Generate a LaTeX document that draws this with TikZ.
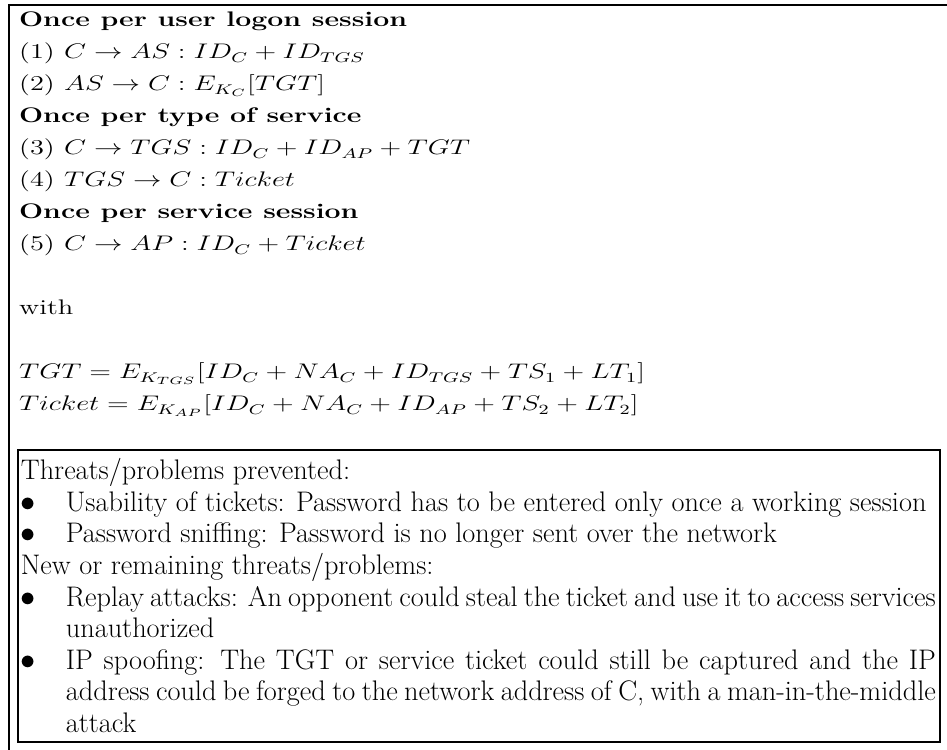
\documentclass[tikz,border=0pt]{standalone}
\usetikzlibrary{positioning}
\begin{document}
\begin{tikzpicture}
[line width=1pt,
upper/.style={anchor=base west, inner sep=0pt, font=\fontsize{12}{14.5}\selectfont, xscale=1.35, transform shape},
lower/.style={anchor=base west, inner sep=0pt, font=\fontsize{16.1}{17.93}\selectfont},
item/.style={lower, text width=17.4cm, align=justify, execute at begin node={\hyphenpenalty=10000\relax}}]

\useasboundingbox (0,0) rectangle (18.94,14.98);

% outer frame (runs off the page right and bottom)
\draw[line width=1.5pt] (0.18,-0.5) -- (0.18,14.88) -- (19.5,14.88);

\node[upper] (sess1) at (0.36,14.44) {\textbf{Once per user logon session}};
\node[upper] (msg1) at (0.36,13.80) {(1) $C \rightarrow AS : ID_C + ID_{TGS}$};
\node[upper] (msg2) at (0.36,13.16) {(2) $AS \rightarrow C : E_{K_C}[TGT]$};
\node[upper] (sess2) at (0.36,12.52) {\textbf{Once per type of service}};
\node[upper] (msg3) at (0.36,11.88) {(3) $C \rightarrow TGS : ID_C + ID_{AP} + TGT$};
\node[upper] (msg4) at (0.36,11.24) {(4) $TGS \rightarrow C : Ticket$};
\node[upper] (sess3) at (0.36,10.60) {\textbf{Once per service session}};
\node[upper] (msg5) at (0.36,9.96) {(5) $C \rightarrow AP : ID_C + Ticket$};

\node[upper] (with) at (0.36,8.68) {with};
\node[upper] (tgt) at (0.36,7.40) {$TGT = E_{K_{TGS}}[ID_C + NA_C + ID_{TGS} + TS_1 + LT_1]$};
\node[upper] (ticket) at (0.36,6.76) {$Ticket = E_{K_{AP}}[ID_C + NA_C + ID_{AP} + TS_2 + LT_2]$};

% threats box
\draw (0.36,0.14) rectangle (18.80,5.98);

\node[lower] (prev) at (0.40,5.38) {Threats/problems prevented:};
\foreach \n/\y in {1/4.75, 2/4.12, 3/2.86, 4/1.60}
  \node[lower] (dot\n) at (0.40,\y) {$\bullet$};
\node[item] (usab) at (1.30,4.75) {Usability of tickets: Password has to be entered only once a working session};
\node[item] (sniff) at (1.30,4.12) {Password sniffing: Password is no longer sent over the network};
\node[lower] (remain) at (0.40,3.49) {New or remaining threats/problems:};
\node[item] (replay) at (1.30,2.86) {Replay attacks: An opponent could steal the ticket and use it to access services unauthorized};
\node[item] (spoof) at (1.30,1.60) {IP spoofing: The TGT or service ticket could still be captured and the IP address could be forged to the network address of C, with a man-in-the-middle attack};
\end{tikzpicture}
\end{document}
